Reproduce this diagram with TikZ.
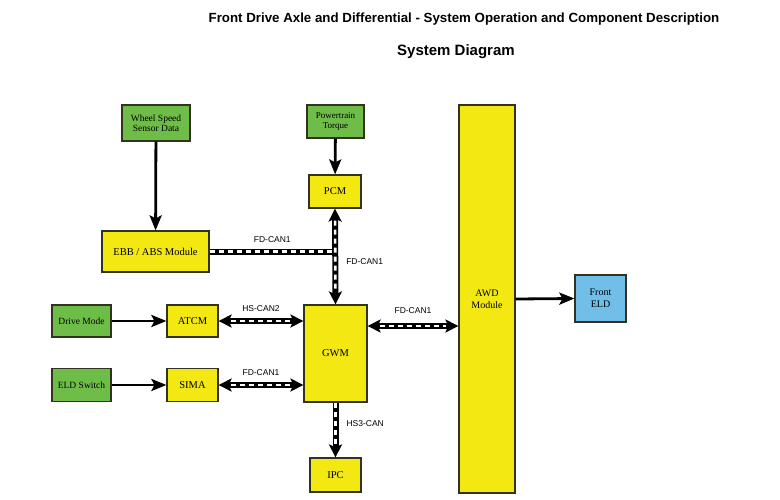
\documentclass[tikz,border=0pt]{standalone}
\usepackage{fontspec}
\setmainfont{Liberation Serif}
\setsansfont{Liberation Sans}
\usetikzlibrary{arrows.meta}

\definecolor{boxgreen}{RGB}{110,189,72}
\definecolor{boxyellow}{RGB}{243,232,18}
\definecolor{boxblue}{RGB}{113,190,232}
\definecolor{boxline}{RGB}{50,50,30}

\tikzset{
  box/.style={draw=boxline, line width=1.2pt, inner sep=0pt, align=center,
    font=\fontsize{9.5}{10.5}\selectfont},
  input/.style={box, fill=boxgreen},
  module/.style={box, fill=boxyellow},
  output/.style={box, fill=boxblue},
  sig/.style={line width=2.8pt, -{Stealth[length=15pt,width=12pt,inset=3pt]}},
  bus/.style={line width=6pt, black,
    postaction={draw=white, -, line width=2.6pt, dash pattern=on 5pt off 4pt}},
  busend/.style={line width=6pt, black, -{Stealth[length=13pt,width=13pt,inset=3pt]},
    postaction={draw=white, -, line width=2.6pt, dash pattern=on 5pt off 4pt, shorten >=12pt}},
  busboth/.style={line width=6pt, black,
    {Stealth[length=13pt,width=13pt,inset=3pt]}-{Stealth[length=13pt,width=13pt,inset=3pt]},
    postaction={draw=white, -, line width=2.6pt, dash pattern=on 5pt off 4pt, shorten >=12pt, shorten <=12pt}},
  lbl/.style={font=\sffamily\fontsize{8.5}{10}\selectfont, inner sep=1pt},
}

\begin{document}
\begin{tikzpicture}[x=1pt, y=-1pt]
\useasboundingbox (0,0) rectangle (780,499);

% Titles
\node[font=\sffamily\bfseries\fontsize{13.3}{15}\selectfont] (title) at (464,19)
  {Front Drive Axle and Differential - System Operation and Component Description};
\node[font=\sffamily\bfseries\fontsize{15}{17}\selectfont] (subtitle) at (456,52) {System Diagram};

% Nodes
\node[input, minimum width=68, minimum height=36] (wss) at (156,123) {Wheel Speed\\Sensor Data};
\node[module, minimum width=107, minimum height=41, font=\fontsize{10.5}{12}\selectfont] (ebb) at (155.5,251.5) {EBB / ABS Module};
\node[input, minimum width=57, minimum height=33, font=\fontsize{9}{10}\selectfont] (ptq) at (335.5,121.5) {Powertrain\\Torque};
\node[module, minimum width=52, minimum height=33, font=\fontsize{10.5}{12}\selectfont] (pcm) at (335,191.5) {PCM};
\node[input, minimum width=59, minimum height=32] (drive) at (81.5,321) {Drive Mode};
\node[module, minimum width=51, minimum height=32, font=\fontsize{10.5}{12}\selectfont] (atcm) at (192.5,321) {ATCM};
\node[input, minimum width=59, minimum height=33] (eldsw) at (81.5,385) {ELD Switch};
\node[module, minimum width=51, minimum height=33, font=\fontsize{10.5}{12}\selectfont] (sima) at (192.5,385) {SIMA};
\node[module, minimum width=63, minimum height=97, font=\fontsize{10.5}{12}\selectfont] (gwm) at (335.5,353.5) {GWM};
\node[module, minimum width=56, minimum height=388, font=\fontsize{10}{12}\selectfont] (awd) at (487,299) {AWD\\Module};
\node[output, minimum width=51, minimum height=47, font=\fontsize{10}{12}\selectfont] (feld) at (600.5,298.5) {Front\\ELD};
\node[module, minimum width=51, minimum height=34, font=\fontsize{10.5}{12}\selectfont] (ipc) at (335.5,475) {IPC};
\coordinate (join) at (pcm.south |- ebb.east);

% Edges
\draw[sig] (wss) -- (ebb);
\draw[sig] (ptq) -- (pcm);
\draw[sig] (drive) -- (atcm);
\draw[sig] (eldsw) -- (sima);
\draw[sig] (awd.east) -- (feld.west);
\draw[bus] (ebb.east) -- node[lbl, above=5pt] {FD-CAN1} (join);
\draw[busboth] (pcm.south) -- node[lbl, right=7pt, pos=0.55] {FD-CAN1} (gwm.north);
\draw[busboth] (atcm.east) -- node[lbl, above=5pt] {HS-CAN2} (atcm.east -| gwm.west);
\draw[busboth] (sima.east) -- node[lbl, above=5pt] {FD-CAN1} (sima.east -| gwm.west);
\draw[busboth] ([yshift=27.5pt]gwm.east) -- node[lbl, above=8pt] {FD-CAN1} ([yshift=27.5pt]gwm.east -| awd.west);
\draw[busend] (gwm.south) -- node[lbl, right=7pt, pos=0.38] {HS3-CAN} (ipc.north);

\end{tikzpicture}
\end{document}
